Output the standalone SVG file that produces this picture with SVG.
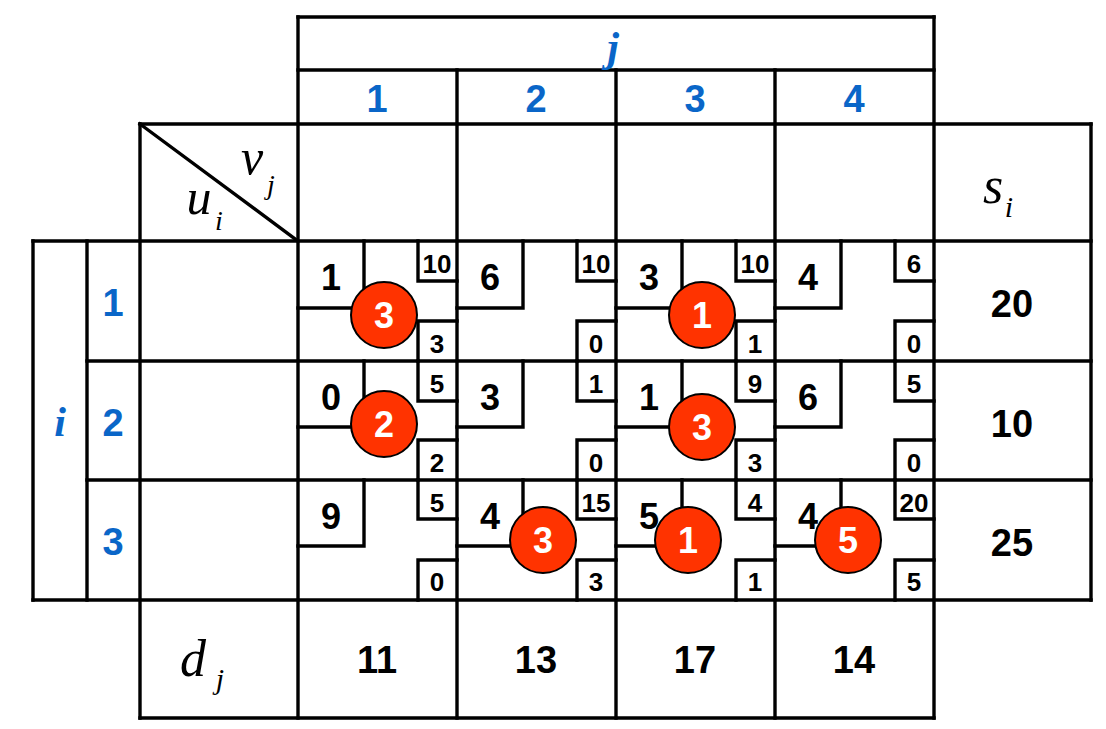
<svg xmlns="http://www.w3.org/2000/svg" width="1106" height="729" viewBox="0 0 1106 729">
<style>
.ln{stroke:#000;stroke-width:3.4;fill:none;stroke-linecap:square}
.cost{font-family:"Liberation Sans",Arial,sans-serif;font-weight:bold;font-size:36px;fill:#000;text-anchor:middle}
.sm{font-family:"Liberation Sans",Arial,sans-serif;font-weight:bold;font-size:26px;fill:#000;text-anchor:middle}
.tot{font-family:"Liberation Sans",Arial,sans-serif;font-weight:bold;font-size:38px;fill:#000;text-anchor:middle}
.hd{font-family:"Liberation Sans",Arial,sans-serif;font-weight:bold;font-size:38px;fill:#0a66c8;text-anchor:middle}
.it{font-family:"Liberation Serif","Times New Roman",serif;font-style:italic;fill:#000}
.itb{font-family:"Liberation Serif","Times New Roman",serif;font-style:italic;font-weight:bold;fill:#0a66c8}
.circ{fill:#ff3300;stroke:#000;stroke-width:2}
.ct{font-family:"Liberation Sans",Arial,sans-serif;font-weight:bold;font-size:36px;fill:#fff;text-anchor:middle}
</style>
<rect width="1106" height="729" fill="#fff"/>
<g id="grid" class="ln">
<path d="M298,17H934M298,70H934M140,124H1091M33,241H1091M87,361H1091M87,480H1091M33,600H1091M140,718H934"/>
<path d="M298,17V718M934,17V718M457,70V718M616,70V718M775,70V718M140,124V718M1091,124V600M33,241V600M87,241V600"/>
<path d="M140,124L298,241"/>
</g>
<g id="headers">
<text class="itb" x="613" y="61" font-size="42" text-anchor="middle">j</text>
<text class="hd" x="377" y="112">1</text>
<text class="hd" x="536" y="112">2</text>
<text class="hd" x="695" y="112">3</text>
<text class="hd" x="854" y="112">4</text>
<text class="itb" x="60" y="436" font-size="42" text-anchor="middle">i</text>
<text class="hd" x="113" y="316">1</text>
<text class="hd" x="113" y="436">2</text>
<text class="hd" x="113" y="555">3</text>
<text class="it" x="252" y="174" font-size="50" text-anchor="middle">v</text>
<text class="it" x="271" y="194" font-size="28" text-anchor="middle">j</text>
<text class="it" x="199" y="214" font-size="50" text-anchor="middle">u</text>
<text class="it" x="219" y="230" font-size="28" text-anchor="middle">i</text>
<text class="it" x="993" y="203" font-size="52" text-anchor="middle">s</text>
<text class="it" x="1009" y="217" font-size="30" text-anchor="middle">i</text>
<text class="it" x="193" y="676" font-size="52" text-anchor="middle">d</text>
<text class="it" x="220" y="689" font-size="30" text-anchor="middle">j</text>
</g>
<g id="supply">
<text class="tot" x="1012" y="317">20</text>
<text class="tot" x="1012" y="437">10</text>
<text class="tot" x="1012" y="556">25</text>
</g>
<g id="demand">
<text class="tot" x="377" y="673">11</text>
<text class="tot" x="536" y="673">13</text>
<text class="tot" x="695" y="673">17</text>
<text class="tot" x="854" y="673">14</text>
</g>
<g id="cells">
<g id="c11"><path class="ln" d="M364,241V308H298M418,241V281H457M418,361V321H457"/><text class="cost" x="331" y="290">1</text><text class="sm" x="437" y="273">10</text><text class="sm" x="437" y="353">3</text></g>
<g id="c12"><path class="ln" d="M523,241V308H457M577,241V281H616M577,361V321H616"/><text class="cost" x="490" y="290">6</text><text class="sm" x="596" y="273">10</text><text class="sm" x="596" y="353">0</text></g>
<g id="c13"><path class="ln" d="M682,241V308H616M736,241V281H775M736,361V321H775"/><text class="cost" x="649" y="290">3</text><text class="sm" x="755" y="273">10</text><text class="sm" x="755" y="353">1</text></g>
<g id="c14"><path class="ln" d="M841,241V308H775M895,241V281H934M895,361V321H934"/><text class="cost" x="808" y="290">4</text><text class="sm" x="914" y="273">6</text><text class="sm" x="914" y="353">0</text></g>

<g id="c21"><path class="ln" d="M364,361V427H298M418,361V401H457M418,480V440H457"/><text class="cost" x="331" y="410">0</text><text class="sm" x="437" y="393">5</text><text class="sm" x="437" y="472">2</text></g>
<g id="c22"><path class="ln" d="M523,361V427H457M577,361V401H616M577,480V440H616"/><text class="cost" x="490" y="410">3</text><text class="sm" x="596" y="393">1</text><text class="sm" x="596" y="472">0</text></g>
<g id="c23"><path class="ln" d="M682,361V427H616M736,361V401H775M736,480V440H775"/><text class="cost" x="649" y="410">1</text><text class="sm" x="755" y="393">9</text><text class="sm" x="755" y="472">3</text></g>
<g id="c24"><path class="ln" d="M841,361V427H775M895,361V401H934M895,480V440H934"/><text class="cost" x="808" y="410">6</text><text class="sm" x="914" y="393">5</text><text class="sm" x="914" y="472">0</text></g>

<g id="c31"><path class="ln" d="M364,480V546H298M418,480V519H457M418,600V560H457"/><text class="cost" x="331" y="529">9</text><text class="sm" x="437" y="512">5</text><text class="sm" x="437" y="591">0</text></g>
<g id="c32"><path class="ln" d="M523,480V546H457M577,480V519H616M577,600V560H616"/><text class="cost" x="490" y="529">4</text><text class="sm" x="596" y="512">15</text><text class="sm" x="596" y="591">3</text></g>
<g id="c33"><path class="ln" d="M682,480V546H616M736,480V519H775M736,600V560H775"/><text class="cost" x="649" y="529">5</text><text class="sm" x="755" y="512">4</text><text class="sm" x="755" y="591">1</text></g>
<g id="c34"><path class="ln" d="M841,480V546H775M895,480V519H934M895,600V560H934"/><text class="cost" x="808" y="529">4</text><text class="sm" x="914" y="512">20</text><text class="sm" x="914" y="591">5</text></g>
</g>
<g id="allocations">
<g id="a11"><circle class="circ" cx="384" cy="315" r="33"/><text class="ct" x="384" y="328">3</text></g>
<g id="a13"><circle class="circ" cx="702" cy="315" r="33"/><text class="ct" x="702" y="328">1</text></g>
<g id="a21"><circle class="circ" cx="384" cy="424" r="33"/><text class="ct" x="384" y="437">2</text></g>
<g id="a23"><circle class="circ" cx="702" cy="427" r="33"/><text class="ct" x="702" y="440">3</text></g>
<g id="a32"><circle class="circ" cx="543" cy="540" r="33"/><text class="ct" x="543" y="553">3</text></g>
<g id="a33"><circle class="circ" cx="688" cy="540" r="33"/><text class="ct" x="688" y="553">1</text></g>
<g id="a34"><circle class="circ" cx="848" cy="540" r="33"/><text class="ct" x="848" y="553">5</text></g>
</g>
</svg>
